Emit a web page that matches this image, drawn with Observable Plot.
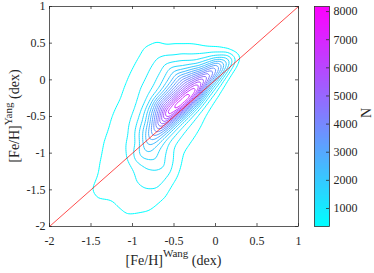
<!DOCTYPE html>
<html><head><meta charset="utf-8">
<script src="https://cdn.jsdelivr.net/npm/d3@7"></script>
<script src="https://cdn.jsdelivr.net/npm/@observablehq/plot@0.6"></script>
<style>
body{margin:0;background:#fff;}
#wrap{position:relative;width:374px;height:273px;overflow:hidden;}
#wrap svg{position:absolute;left:0;top:0;font-family:'Liberation Serif','Times New Roman',serif;}
</style></head><body><div id="wrap"></div>
<script>
// ---- data ----
const xTicks = [-2, -1.5, -1, -0.5, 0, 0.5, 1];
const yTicks = [-2, -1.5, -1, -0.5, 0, 0.5, 1];
const colorTicks = [1000, 2000, 3000, 4000, 5000, 6000, 7000, 8000];
const levels = [400, 800, 1200, 1600, 2000, 2400, 2800, 3200, 3600, 4000, 4400, 4800, 5200, 5600, 6000, 6400, 6800, 7200, 7600, 8000];
const colorRange = [360, 8180];
const diag = [-2, 1];
// grid of star counts N, rows along the 1:1 line (s = mean of both [Fe/H]),
// columns across it (d = Yang - Wang)
const sAlong = [-1.7, -1.5, -1.3, -1.1, -0.9, -0.7, -0.5, -0.45, -0.4, -0.35, -0.3, -0.25, -0.2, -0.1, 0, 0.1, 0.2, 0.3, 0.4];
const dAcross = [-1.2, -1.0, -0.8, -0.6, -0.45, -0.3, -0.2, -0.1, 0, 0.05, 0.1, 0.15, 0.2, 0.3, 0.4, 0.5, 0.6, 0.8, 1.0, 1.2, 1.4];
const rowM170 = [0,0,0,0,0,0,0,0,0,0,0,0,0,0,0,0,0,0,0,0,0];
const rowM150 = [0,150,330,330,320,380,444,430,400,370,340,310,280,220,160,100,50,0,0,0,0];
const rowM130 = [100,380,560,620,630,600,570,520,470,450,430,415,405,360,300,220,150,50,0,0,0];
const rowM110 = [100,380,780,900,900,830,770,710,650,615,585,555,525,480,445,400,320,150,40,0,0];
const rowM090 = [0,120,550,1150,1450,1750,2000,2100,1700,1450,1250,1120,1000,790,640,540,470,350,150,0,0];
const rowM070 = [0,0,150,420,680,1150,1700,2800,3900,3900,3500,3100,2600,1800,1280,950,720,480,300,120,0];
const rowM050 = [0,0,100,280,500,850,1450,2700,5000,6300,7500,6700,5800,4500,3100,1750,1200,780,500,280,80];
const rowM045 = [0,0,75,240,445,800,1365,2750,5000,6400,7300,6600,5900,4550,3150,1875,1300,840,560,320,100];
const rowM040 = [0,0,50,200,390,750,1280,2800,5400,6900,8100,7000,6100,4600,3200,2000,1400,900,620,360,120];
const rowM035 = [0,0,25,140,310,655,1205,2700,5200,6700,7600,6800,6100,4600,3300,2200,1575,975,670,410,135];
const rowM030 = [0,0,0,80,230,560,1130,2600,5300,6900,8150,7100,6100,4600,3400,2400,1750,1050,720,460,150];
const rowM025 = [0,0,0,40,165,480,990,2300,4900,6300,7400,6800,6000,4650,3550,2600,1925,1150,750,500,215];
const rowM020 = [0,0,0,0,100,400,850,2000,4500,6000,7400,6800,5900,4700,3700,2800,2100,1250,780,540,280];
const rowM010 = [0,0,0,0,0,220,650,1400,3000,4200,5500,6250,5300,4050,2900,2000,1500,900,600,460,150];
const rowP000 = [0,0,0,0,0,100,330,1000,2400,3300,4300,5000,4300,2900,1800,1250,950,620,380,100,0];
const rowP010 = [0,0,0,0,0,0,150,500,1800,2600,3200,3700,3500,2000,1200,820,620,380,150,0,0];
const rowP020 = [0,0,0,0,0,0,0,250,1000,1600,1950,1950,1600,900,600,380,250,80,0,0,0];
const rowP030 = [0,0,0,0,0,0,0,0,400,450,420,380,300,200,120,60,0,0,0,0,0];
const rowP040 = [0,0,0,0,0,0,0,0,0,0,0,0,0,0,0,0,0,0,0,0,0];
const countRows = [rowM170,rowM150,rowM130,rowM110,rowM090,rowM070,rowM050,rowM045,rowM040,rowM035,
  rowM030,rowM025,rowM020,rowM010,rowP000,rowP010,rowP020,rowP030,rowP040];

// table for the library
const points = [];
sAlong.forEach((s, i) => dAcross.forEach((d, j) => {
  points.push({wang: s - d / 2, yang: s + d / 2, n: countRows[i][j]});
}));

const W = 374, H = 273;
const ink = "#262626";
const font = "'Liberation Serif', 'Times New Roman', serif";
const colorOpts = {type: "linear", domain: colorRange, range: ["#00ffff", "#ff00ff"], interpolate: "rgb"};
const axisText = {tickSize: 0, tickFormat: d => String(d), label: null, fontSize: 12, fontFamily: font, fill: ink};

const main = Plot.plot({
  width: W, height: H,
  marginLeft: 49, marginRight: 76, marginTop: 6, marginBottom: 47,
  x: {domain: [-2, 1]},
  y: {domain: [-2, 1]},
  color: colorOpts,
  style: {fontFamily: font, fontSize: "12px", color: ink, background: "#fff"},
  marks: [
    Plot.contour(points, {x: "wang", y: "yang", value: "n", thresholds: levels,
      interpolate: "barycentric", blur: 1, fill: "none", stroke: "value", strokeWidth: 1}),
    Plot.line(diag, {x: d => d, y: d => d, stroke: "#ff0000", strokeWidth: 0.7}),
    Plot.frame({stroke: ink, strokeWidth: 0.75}),
    Plot.tickX(xTicks, {x: d => d, insetTop: 217, stroke: ink, strokeWidth: 0.75}),
    Plot.tickX(xTicks, {x: d => d, insetBottom: 217, stroke: ink, strokeWidth: 0.75}),
    Plot.tickY(yTicks, {y: d => d, insetRight: 246, stroke: ink, strokeWidth: 0.75}),
    Plot.tickY(yTicks, {y: d => d, insetLeft: 246, stroke: ink, strokeWidth: 0.75}),
    Plot.axisX(xTicks, {anchor: "bottom", tickPadding: 10, ...axisText}),
    Plot.axisY(yTicks, {anchor: "left", tickPadding: 4, ...axisText})
  ]
});

const cbar = Plot.plot({
  width: W, height: H,
  marginLeft: 314, marginRight: 45, marginTop: 6, marginBottom: 47,
  x: {domain: [0, 1], axis: null},
  y: {domain: colorRange},
  color: colorOpts,
  style: {fontFamily: font, fontSize: "12px", color: ink, background: "transparent"},
  marks: [
    Plot.raster({x1: 0, x2: 1, y1: colorRange[0], y2: colorRange[1], fill: (x, y) => y, pixelSize: 1}),
    Plot.frame({stroke: ink, strokeWidth: 0.75}),
    Plot.tickY(colorTicks, {y: d => d, insetLeft: 12, stroke: ink, strokeWidth: 0.75}),
    Plot.axisY(colorTicks, {anchor: "right", tickPadding: 4, ...axisText})
  ]
});

const wrap = document.getElementById("wrap");
wrap.appendChild(main);
wrap.appendChild(cbar);

// axis titles with superscripts
const sm = d3.select(main);
const xl = sm.append("text").attr("x", 173.5).attr("y", 265).attr("text-anchor", "middle")
  .attr("fill", ink).style("font-family", font).style("font-size", "14px");
xl.append("tspan").text("[Fe/H]");
xl.append("tspan").attr("dy", -8).style("font-size", "11px").text("Wang");
xl.append("tspan").attr("dy", 8).text(" (dex)");

const yl = sm.append("text").attr("transform", "translate(19,116) rotate(-90)").attr("text-anchor", "middle")
  .attr("fill", ink).style("font-family", font).style("font-size", "14px");
yl.append("tspan").text("[Fe/H]");
yl.append("tspan").attr("dy", -7).style("font-size", "11px").text("Yang");
yl.append("tspan").attr("dy", 7).text(" (dex)");

d3.select(cbar).append("text").attr("transform", "translate(371,113) rotate(-90)").attr("text-anchor", "middle")
  .attr("fill", ink).style("font-family", font).style("font-size", "14px").text("N");
</script></body></html>
